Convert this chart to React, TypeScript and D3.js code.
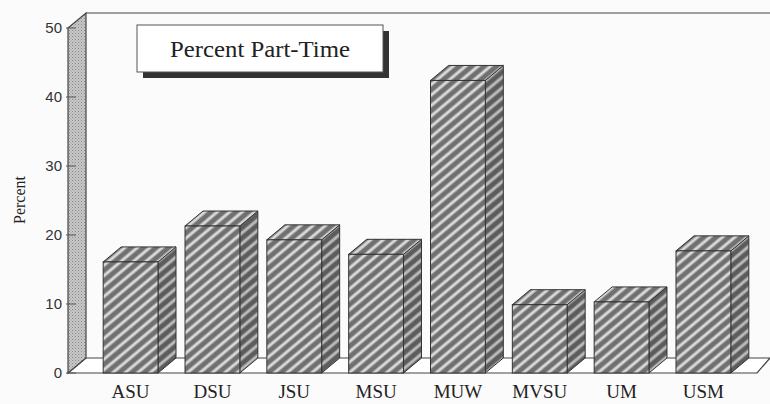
import * as d3 from 'd3';
import * as React from 'react';

const categories = ['ASU', 'DSU', 'JSU', 'MSU', 'MUW', 'MVSU', 'UM', 'USM'];
const percentPartTime = [16.1, 21.3, 19.3, 17.2, 42.4, 9.9, 10.3, 17.7];
const yTicks = [0, 10, 20, 30, 40, 50];

const W = 770;
const H = 404;
const DX = 18;
const DY = -15;
const wallX = 68;
const floorRight = 757;

const serif = '"Liberation Serif", "DejaVu Serif", serif';

export default function App() {
  const x = d3.scaleBand<string>()
    .domain(categories)
    .range([wallX + DX, 748])
    .paddingInner(0.33)
    .paddingOuter(0.21);
  const y = d3.scaleLinear().domain([0, 50]).range([373, 28]);
  const base = y(0);
  const top = y(50);
  const bw = x.bandwidth();

  const line = d3.line();

  const bars = categories.map((c, i) => {
    const x0 = x(c)!;
    const x1 = x0 + bw;
    const yt = y(percentPartTime[i]);
    const side = line([[x1, yt], [x1 + DX, yt + DY], [x1 + DX, base + DY], [x1, base]]) + 'Z';
    const cap = line([[x0, yt], [x0 + DX, yt + DY], [x1 + DX, yt + DY], [x1, yt]]) + 'Z';
    return (
      <g key={c}>
        <path d={side} fill="url(#stripeDark)" stroke="#333" strokeWidth={1} />
        <path d={cap} fill="url(#stripe)" stroke="#333" strokeWidth={1} />
        <rect x={x0} y={yt} width={bw} height={base - yt} fill="url(#stripe)" stroke="#333" strokeWidth={1} />
        <text x={x0 + bw / 2} y={398} textAnchor="middle" fontFamily={serif} fontSize={19} fill="#222">{c}</text>
      </g>
    );
  });

  const wall = line([[wallX, top], [wallX + DX, top + DY], [wallX + DX, base + DY], [wallX, base]]) + 'Z';
  const floor = line([[wallX, base], [wallX + DX, base + DY], [W, base + DY], [floorRight, base]]) + 'Z';

  return (
    <svg width={W} height={H} style={{ position: 'absolute', left: 0, top: 0, background: '#fbfbfb' }}>
      <defs>
        <pattern id="stripe" width={8} height={8} patternUnits="userSpaceOnUse" patternTransform="rotate(-40)">
          <rect width={8} height={8} fill="#dadada" />
          <rect width={8} height={4} fill="#707070" />
          <rect y={4} width={8} height={1} fill="#a4a4a4" />
          <rect y={7} width={8} height={1} fill="#a4a4a4" />
        </pattern>
        <pattern id="stripeDark" width={8} height={8} patternUnits="userSpaceOnUse" patternTransform="rotate(-40)">
          <rect width={8} height={8} fill="#bcbcbc" />
          <rect width={8} height={4} fill="#5c5c5c" />
          <rect y={4} width={8} height={1} fill="#8c8c8c" />
          <rect y={7} width={8} height={1} fill="#8c8c8c" />
        </pattern>
        <pattern id="dots" width={3} height={3} patternUnits="userSpaceOnUse">
          <rect width={3} height={3} fill="#c8c8c8" />
          <rect width={1} height={1} fill="#888" />
          <rect x={1.5} y={1.5} width={1} height={1} fill="#999" />
        </pattern>
      </defs>

      {/* back frame */}
      <line x1={wallX + DX} y1={top + DY} x2={W} y2={top + DY} stroke="#444" strokeWidth={1.2} />
      <path d={floor} fill="#fff" stroke="#444" strokeWidth={1.2} />
      <path d={wall} fill="url(#dots)" stroke="#444" strokeWidth={1.2} />

      {yTicks.map(t => (
        <g key={t}>
          <line x1={wallX - 2} x2={wallX + 8} y1={y(t)} y2={y(t)} stroke="#555" strokeWidth={1} />
          <text x={62} y={y(t) + 5} textAnchor="end" fontFamily='"Liberation Sans", Arial, sans-serif' fontSize={15} fill="#333">{t}</text>
        </g>
      ))}

      <text transform="translate(25,200) rotate(-90)" textAnchor="middle" fontFamily={serif} fontSize={16} fill="#222">Percent</text>

      {bars}

      <rect x={143} y={31} width={246} height={47} fill="#333" />
      <rect x={137} y={25} width={246} height={47} fill="#fff" stroke="#555" strokeWidth={1} />
      <text x={260} y={57} textAnchor="middle" fontFamily={serif} fontSize={24} textLength={180} lengthAdjust="spacingAndGlyphs" fill="#222">Percent Part-Time</text>
    </svg>
  );
}
